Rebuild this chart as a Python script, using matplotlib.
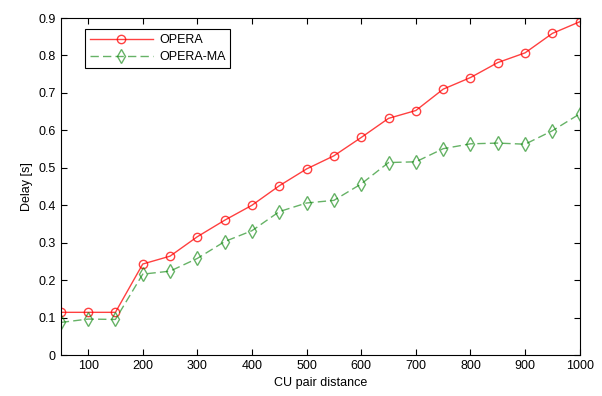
import numpy as np
import matplotlib.pyplot as plt

plt.rcParams['font.family'] = ['Liberation Sans', 'DejaVu Sans']
plt.rcParams['font.size'] = 9

distance = np.arange(50, 1001, 50)
opera = [0.114, 0.114, 0.114, 0.243, 0.264, 0.316, 0.360, 0.400, 0.452, 0.497,
         0.532, 0.581, 0.632, 0.653, 0.710, 0.741, 0.781, 0.807, 0.859, 0.890]
opera_ma = [0.087, 0.096, 0.095, 0.216, 0.224, 0.258, 0.303, 0.332, 0.383, 0.406,
            0.413, 0.457, 0.514, 0.516, 0.551, 0.564, 0.566, 0.563, 0.599, 0.644]

fig = plt.figure(figsize=(6.02, 3.96), dpi=100)
ax = fig.add_axes([0.101, 0.1035, 0.862, 0.851])

ax.plot(distance, opera, '-o', color='red', lw=1, ms=6, mfc='none', mew=1,
        alpha=0.75, label='OPERA')
ax.plot(distance, opera_ma, '--d', color='green', lw=1, ms=7, mfc='none', mew=1,
        alpha=0.6, dashes=(6, 3), label='OPERA-MA')

ax.set_xlim(50, 1000)
ax.set_ylim(0, 0.9)
ax.set_xticks(np.arange(100, 1001, 100))
ax.set_yticks(np.arange(0, 0.91, 0.1))
ax.set_yticklabels(['0', '0.1', '0.2', '0.3', '0.4', '0.5', '0.6', '0.7', '0.8', '0.9'])
ax.tick_params(direction='in', length=4, top=True, right=True, width=0.8)
for s in ax.spines.values():
    s.set_linewidth(0.8)

ax.set_xlabel('CU pair distance')
ax.set_ylabel('Delay [s]')

leg = ax.legend(loc='upper left', bbox_to_anchor=(0.035, 0.985), fancybox=False,
                edgecolor='black', framealpha=1, handlelength=5, borderpad=0.4,
                handletextpad=0.5, labelspacing=0.4)
leg.get_frame().set_linewidth(0.8)

fig.savefig('out.png', dpi=100)
